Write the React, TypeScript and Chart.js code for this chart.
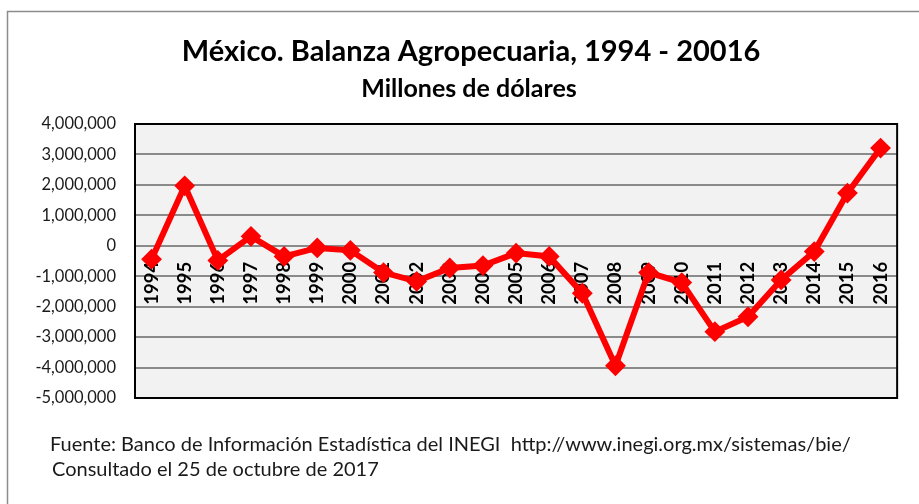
import React, { useEffect, useRef } from 'react';
import { Chart, registerables } from 'chart.js';

Chart.register(...registerables);

const years: string[] = [
  '1994', '1995', '1996', '1997', '1998', '1999', '2000', '2001', '2002', '2003', '2004', '2005',
  '2006', '2007', '2008', '2009', '2010', '2011', '2012', '2013', '2014', '2015', '2016',
];

const balance: number[] = [
  -440000, 1970000, -480000, 310000, -350000, -70000, -150000, -880000, -1170000, -730000,
  -650000, -240000, -350000, -1560000, -3940000, -880000, -1210000, -2820000, -2330000,
  -1120000, -190000, 1730000, 3210000,
];

const yMin = -5000000;
const yMax = 4000000;
const yStep = 1000000;

const titleText = 'México. Balanza Agropecuaria, 1994 - 20016';
const subtitleText = 'Millones de dólares';
const sourceLines: string[] = [
  'Fuente: Banco de Información Estadística del INEGI  http://www.inegi.org.mx/sistemas/bie/',
  'Consultado el 25 de octubre de 2017',
];

const FONT = 'Lato, "Open Sans", sans-serif';

const decorPlugin = {
  id: 'decor',
  beforeDraw(chart: any) {
    const { ctx, chartArea } = chart;
    ctx.save();
    ctx.fillStyle = '#ffffff';
    ctx.fillRect(0, 0, chart.width, chart.height);
    ctx.strokeStyle = '#8c8c8c';
    ctx.lineWidth = 1.5;
    ctx.strokeRect(7.5, 11.5, chart.width + 20, chart.height + 20);
    ctx.fillStyle = '#f2f2f2';
    ctx.fillRect(chartArea.left, chartArea.top, chartArea.right - chartArea.left, chartArea.bottom - chartArea.top);
    ctx.restore();
  },
  beforeDatasetsDraw(chart: any) {
    const { ctx, chartArea } = chart;
    ctx.save();
    ctx.strokeStyle = '#000000';
    ctx.lineWidth = 2;
    ctx.strokeRect(chartArea.left, chartArea.top, chartArea.right - chartArea.left, chartArea.bottom - chartArea.top);
    ctx.restore();
  },
  afterDraw(chart: any) {
    const { ctx } = chart;
    ctx.save();
    ctx.fillStyle = '#000000';
    ctx.textAlign = 'center';
    ctx.textBaseline = 'middle';
    ctx.font = `bold 29px ${FONT}`;
    ctx.fillText(titleText, 471, 52);
    ctx.font = `bold 25px ${FONT}`;
    ctx.fillText(subtitleText, 469, 89);
    ctx.textAlign = 'left';
    ctx.fillStyle = '#1a1a1a';
    ctx.font = `20px ${FONT}`;
    ctx.fillText(sourceLines[0], 50, 445);
    ctx.fillText(sourceLines[1], 52, 470);
    ctx.restore();
  },
};

export default function App() {
  const ref = useRef<HTMLCanvasElement>(null);

  useEffect(() => {
    const chart = new Chart(ref.current as HTMLCanvasElement, {
      type: 'line',
      data: {
        labels: years,
        datasets: [
          {
            data: balance,
            borderColor: '#ff0000',
            backgroundColor: '#ff0000',
            borderWidth: 6,
            pointStyle: 'rectRot',
            pointRadius: 9,
            pointBorderWidth: 2,
            pointBackgroundColor: '#ff0000',
            pointBorderColor: '#ff0000',
            tension: 0,
            clip: false as any,
          },
        ],
      },
      options: {
        responsive: false,
        animation: false,
        locale: 'en-US',
        layout: { padding: { left: 0, right: 7, top: 124, bottom: 106 } },
        plugins: {
          legend: { display: false },
          title: { display: false },
          tooltip: { enabled: false },
        },
        scales: {
          x: {
            type: 'category',
            position: { y: 0 } as any,
            offset: true,
            grid: { display: false, drawTicks: false },
            border: { display: false },
            ticks: {
              autoSkip: false,
              minRotation: 90,
              maxRotation: 90,
              padding: 16,
              color: '#000000',
              font: { family: FONT, size: 18.5, weight: 'bold' },
            },
          },
          y: {
            min: yMin,
            max: yMax,
            afterFit(scale: any) {
              scale.width = 135;
            },
            grid: { color: '#8a8a8a', lineWidth: 2, drawTicks: false },
            border: { display: false },
            ticks: {
              stepSize: yStep,
              padding: 19,
              color: '#1a1a1a',
              font: { family: FONT, size: 16.5 },
            },
          },
        },
      },
      plugins: [decorPlugin],
    });
    return () => chart.destroy();
  }, []);

  return (
    <div style={{ position: 'fixed', left: 0, top: 0, width: 919, height: 504 }}>
      <canvas ref={ref} width={919} height={504} />
    </div>
  );
}
